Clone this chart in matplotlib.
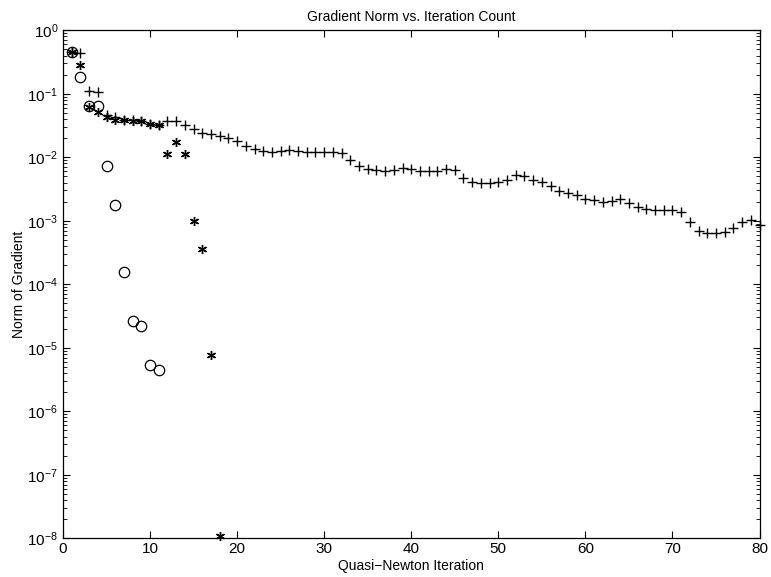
import numpy as np
import matplotlib.pyplot as plt
from matplotlib.ticker import FixedLocator, NullFormatter

plt.rcParams['font.family'] = ['Liberation Sans', 'DejaVu Sans']
plt.rcParams['mathtext.fontset'] = 'custom'
plt.rcParams['mathtext.rm'] = 'Liberation Sans'
plt.rcParams['mathtext.it'] = 'Liberation Sans'

# gradient norm per iteration, three runs
plus_iters = list(range(1, 81))
plus_norm = [
    0.46, 0.44, 0.11, 0.107, 0.047, 0.043, 0.039, 0.038, 0.037, 0.033,
    0.032, 0.037, 0.037, 0.032, 0.0276, 0.0245, 0.023, 0.0216, 0.0201, 0.0179,
    0.0151, 0.0135, 0.0126, 0.0121, 0.0124, 0.0132, 0.0127, 0.0123, 0.012, 0.0119,
    0.012, 0.0117, 0.00906, 0.00721, 0.00654, 0.00624, 0.00608, 0.00624, 0.00679, 0.00647,
    0.00617, 0.00602, 0.00602, 0.00647, 0.00624, 0.00478, 0.00408, 0.00394, 0.00389, 0.00403,
    0.00445, 0.00521, 0.00508, 0.00445, 0.00408, 0.00353, 0.00299, 0.00271, 0.00252, 0.00224,
    0.0021, 0.00198, 0.00203, 0.00218, 0.00194, 0.00165, 0.00152, 0.00146, 0.00146, 0.0015,
    0.00138, 0.000958, 0.000691, 0.000652, 0.000643, 0.000667, 0.000771, 0.000958, 0.00102, 0.00085,
]

star_iters = list(range(1, 19))
star_norm = [
    0.46, 0.281, 0.062, 0.0517, 0.0431, 0.0392, 0.0383, 0.0373, 0.0369, 0.0331,
    0.0319, 0.0111, 0.0174, 0.0111, 0.00099, 0.000365, 7.8e-6, 1.1e-8,
]

circ_iters = list(range(1, 12))
circ_norm = [
    0.46, 0.184, 0.0644, 0.0644, 0.0074, 0.00175, 0.000156, 2.64e-5, 2.2e-5, 5.4e-6, 4.4e-6,
]

decades = list(range(-8, 1))

fig = plt.figure(figsize=(7.71, 5.77), dpi=100)
ax = fig.add_axes([0.0817, 0.0671, 0.9034, 0.8804])

ax.semilogy(plus_iters, plus_norm, linestyle='none', marker='+', color='black',
            markersize=7.5, markeredgewidth=1.0, clip_on=False)
ax.semilogy(star_iters, star_norm, linestyle='none', marker=(6, 2, 0), color='black',
            markersize=6.5, markeredgewidth=1.0, clip_on=False)
ax.semilogy(circ_iters, circ_norm, linestyle='none', marker='o', markerfacecolor='none',
            markeredgecolor='black', markersize=7.5, markeredgewidth=0.9, clip_on=False)

ax.set_xlim(0, 80)
ax.set_ylim(1e-8, 1)
ax.set_xticks(range(0, 81, 10))
ax.set_yticks([10.0 ** d for d in decades])
ax.set_yticklabels([r'$10^{%d}$' % d for d in decades])
minors = [m * 10.0 ** d for d in decades[:-1] for m in range(2, 10)]
ax.yaxis.set_minor_locator(FixedLocator(minors))
ax.yaxis.set_minor_formatter(NullFormatter())

ax.tick_params(which='both', direction='in', top=True, right=True, labelsize=11)
ax.tick_params(axis='x', pad=3)
ax.tick_params(which='major', length=5, width=0.8)
ax.tick_params(which='minor', length=3, width=0.6)
for s in ax.spines.values():
    s.set_linewidth(0.9)

ax.set_title('Gradient Norm vs. Iteration Count', fontsize=10, pad=7)
ax.set_xlabel('Quasi\u2212Newton Iteration', fontsize=10, labelpad=2)
ax.set_ylabel('Norm of Gradient', fontsize=10, labelpad=1)

fig.savefig('out.png', dpi=100)
